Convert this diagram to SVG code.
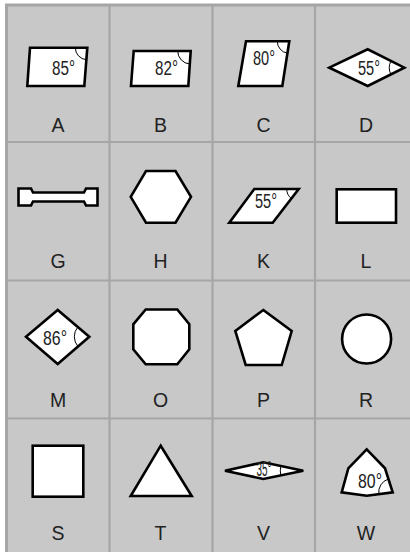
<svg xmlns="http://www.w3.org/2000/svg" width="410" height="552" viewBox="0 0 410 552">
<style>
.bg{fill:#c8c8c8;stroke:#a6a6a6;stroke-width:3}
.grid{stroke:#a6a6a6;stroke-width:2.2;fill:none}
.sh{fill:#fff;stroke:#000;stroke-width:2.6;stroke-linejoin:miter}
.arc{fill:none;stroke:#000;stroke-width:1}
.lbl{font-family:"Liberation Sans",Arial,sans-serif;font-size:19.5px;fill:#222;text-anchor:middle}
.ang{font-family:"Liberation Sans",Arial,sans-serif;font-size:20px;fill:#222;text-anchor:middle}
</style>
<rect x="0" y="0" width="410" height="552" fill="#fff"/>
<rect class="bg" x="6.5" y="5" width="420" height="560"/>
<g id="grid" class="grid">
<line x1="109.5" y1="5" x2="109.5" y2="552"/>
<line x1="212.5" y1="5" x2="212.5" y2="552"/>
<line x1="315" y1="5" x2="315" y2="552"/>
<line x1="6.5" y1="142" x2="410" y2="142"/>
<line x1="6.5" y1="280.5" x2="410" y2="280.5"/>
<line x1="6.5" y1="418.5" x2="410" y2="418.5"/>
</g>

<g id="A">
<polygon class="sh" points="30,47.7 87.3,47.7 84.3,86 27.3,86"/>
<path class="arc" d="M75.3 47.7 A12 12 0 0 0 86.4 59.7"/>
<text class="ang" x="63.5" y="75" textLength="23" lengthAdjust="spacingAndGlyphs">85°</text>
<text class="lbl" x="58" y="132">A</text>
</g>

<g id="B">
<polygon class="sh" points="133.7,51 190.7,51 188.3,86 131,86"/>
<path class="arc" d="M177.7 51 A13 13 0 0 0 189.8 64"/>
<text class="ang" x="166.5" y="75" textLength="23" lengthAdjust="spacingAndGlyphs">82°</text>
<text class="lbl" x="160.5" y="132">B</text>
</g>

<g id="C">
<polygon class="sh" points="246,41.3 289.3,41.3 282.3,86 238.3,86"/>
<path class="arc" d="M277.3 41.3 A12 12 0 0 0 287.4 53.2"/>
<text class="ang" x="264" y="65" textLength="22" lengthAdjust="spacingAndGlyphs">80°</text>
<text class="lbl" x="263.5" y="132">C</text>
</g>

<g id="D">
<polygon class="sh" points="329.3,67.7 367.7,49.3 404.3,67.7 367.7,86"/>
<path class="arc" d="M390.9 61 A15 15 0 0 0 390.9 74.4"/>
<text class="ang" x="369" y="74.5" textLength="22" lengthAdjust="spacingAndGlyphs">55°</text>
<text class="lbl" x="366" y="132">D</text>
</g>

<g id="G">
<polygon class="sh" points="18.5,188.5 31,188.5 33,192.5 84,192.5 86,188.5 97.5,188.5 97.5,205.5 86,205.5 84,201.5 33,201.5 31,205.5 18.5,205.5"/>
<text class="lbl" x="58" y="268">G</text>
</g>

<g id="H">
<polygon class="sh" points="130.7,196.8 146,171 175.5,171 191,196.8 175.5,222.7 146,222.7"/>
<text class="lbl" x="160.5" y="268">H</text>
</g>

<g id="K">
<polygon class="sh" points="254.3,189 298.7,189 272.7,222.7 229.3,222.7"/>
<path class="arc" d="M286.7 189 A12 12 0 0 0 291.4 198.5"/>
<text class="ang" x="266" y="207.5" font-size="18" textLength="22" lengthAdjust="spacingAndGlyphs">55°</text>
<text class="lbl" x="263.5" y="268">K</text>
</g>

<g id="L">
<rect class="sh" x="336.7" y="189.3" width="59.3" height="33.4"/>
<text class="lbl" x="366" y="268">L</text>
</g>

<g id="M">
<polygon class="sh" points="26,336.7 57.7,310 89.3,336.7 57.7,364"/>
<path class="arc" d="M77.8 327 A15 15 0 0 0 78 346.5"/>
<text class="ang" x="55" y="345" textLength="24" lengthAdjust="spacingAndGlyphs">86°</text>
<text class="lbl" x="58" y="407">M</text>
</g>

<g id="O">
<polygon class="sh" points="145.7,309.5 177.3,309.5 189.3,324.3 189.3,349.3 177.3,364.3 145.7,364.3 133.3,349.3 133.3,324.3"/>
<text class="lbl" x="160.5" y="407">O</text>
</g>

<g id="P">
<polygon class="sh" points="263.3,310 291.7,331 281.7,365 245.7,365 235.3,331"/>
<text class="lbl" x="263.5" y="407">P</text>
</g>

<g id="R">
<circle class="sh" cx="366.6" cy="339" r="24.5"/>
<text class="lbl" x="366" y="407">R</text>
</g>

<g id="S">
<rect class="sh" x="32.7" y="445.7" width="50.6" height="51"/>
<text class="lbl" x="58" y="540">S</text>
</g>

<g id="T">
<polygon class="sh" points="160.7,445.7 191.7,496 130.7,496"/>
<text class="lbl" x="160.5" y="540">T</text>
</g>

<g id="V">
<polygon class="sh" points="225,470.7 263.3,462.3 303.3,470.7 263.3,479"/>
<path class="arc" d="M280.8 466 A23 23 0 0 0 280.8 475.4"/>
<text class="ang" x="264" y="476" font-size="12.5" textLength="15" lengthAdjust="spacingAndGlyphs">35°</text>
<text class="lbl" x="263.5" y="540">V</text>
</g>

<g id="W">
<polygon class="sh" points="366.7,449.3 385,468.3 392.7,492.3 366.7,495.7 341.7,492.3 348.3,468.3"/>
<path class="arc" d="M388.4 479 A14 14 0 0 0 378.8 494.1"/>
<text class="ang" x="370" y="488" textLength="24" lengthAdjust="spacingAndGlyphs">80°</text>
<text class="lbl" x="366" y="540">W</text>
</g>
</svg>
